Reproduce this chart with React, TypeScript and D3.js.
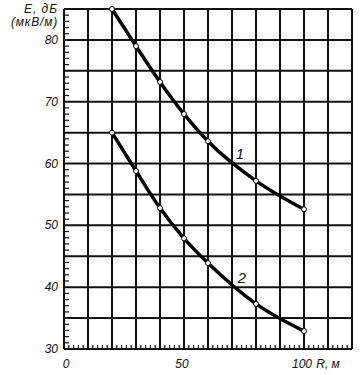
import React from "react";
import * as d3 from "d3";

const distances = [20, 30, 40, 50, 60, 80, 100];
const curve1 = [85, 79, 73.2, 68, 63.6, 57.2, 52.6];
const curve2 = [65, 58.8, 52.8, 47.9, 43.9, 37.3, 32.9];
const xTickLabels = [0, 50, 100];
const yTickLabels = [30, 40, 50, 60, 70, 80];

const W = 363;
const H = 375;
const left = 64, right = 352, top = 9, bottom = 349;

export default function App() {
  const x = d3.scaleLinear().domain([0, 120]).range([left, right]);
  const y = d3.scaleLinear().domain([30, 85]).range([bottom, top]);
  const line = d3
    .line<number>()
    .x((_, i) => x(distances[i]))
    .y((d) => y(d))
    .curve(d3.curveMonotoneX);

  const xGrid = d3.range(0, 121, 10);
  const yGrid = d3.range(30, 86, 5);
  const xMinor = d3.range(0, 121, 2).filter((v) => v % 10 !== 0);
  const yMinor = d3.range(30, 86, 1).filter((v) => v % 5 !== 0);
  const font = "'Liberation Sans', Arial, sans-serif";

  return (
    <svg
      width={W}
      height={H}
      style={{ position: "absolute", left: 0, top: 0, background: "#fff" }}
      fontFamily={font}
    >
      <rect x={0} y={0} width={W} height={H} fill="#fff" />
      {xGrid.map((v) => (
        <line key={"xg" + v} x1={x(v)} x2={x(v)} y1={top} y2={bottom} stroke="#111" strokeWidth={2} />
      ))}
      {yGrid.map((v) => (
        <line key={"yg" + v} x1={left} x2={right} y1={y(v)} y2={y(v)} stroke="#111" strokeWidth={2} />
      ))}
      {xMinor.map((v) => (
        <line key={"xm" + v} x1={x(v)} x2={x(v)} y1={bottom} y2={bottom - 4} stroke="#111" strokeWidth={1.2} />
      ))}
      {yMinor.map((v) => (
        <line key={"ym" + v} x1={left} x2={left + 5} y1={y(v)} y2={y(v)} stroke="#111" strokeWidth={1.2} />
      ))}
      <path d={line(curve1) || ""} fill="none" stroke="#000" strokeWidth={3.5} />
      <path d={line(curve2) || ""} fill="none" stroke="#000" strokeWidth={3.5} />
      {[curve1, curve2].map((c, ci) =>
        c.map((v, i) => (
          <circle key={ci + "-" + i} cx={x(distances[i])} cy={y(v)} r={2.5} fill="#fff" stroke="#000" strokeWidth={1} />
        ))
      )}
      {yTickLabels.map((v) => (
        <text key={"yl" + v} x={left - 6} y={y(v) + 4} textAnchor="end" fontSize={12} fontStyle="italic" fill="#111">
          {v}
        </text>
      ))}
      {xTickLabels.map((v) => (
        <text key={"xl" + v} x={x(v) + (v === 0 ? 2 : -2)} y={368} textAnchor="middle" fontSize={12} fontStyle="italic" fill="#111">
          {v}
        </text>
      ))}
      <text x={58} y={13} textAnchor="end" fontSize={12} fontStyle="italic" letterSpacing={1} fill="#111">E, дБ</text>
      <text x={58} y={26} textAnchor="end" fontSize={12} fontStyle="italic" letterSpacing={0.8} fill="#111">(мкВ/м)</text>
      <text x={328} y={368} textAnchor="middle" fontSize={12} fontStyle="italic" fill="#111">R, м</text>
      <text x={240} y={159} textAnchor="middle" fontSize={15} fontStyle="italic" fill="#111">1</text>
      <text x={242} y={283} textAnchor="middle" fontSize={15} fontStyle="italic" fill="#111">2</text>
    </svg>
  );
}
